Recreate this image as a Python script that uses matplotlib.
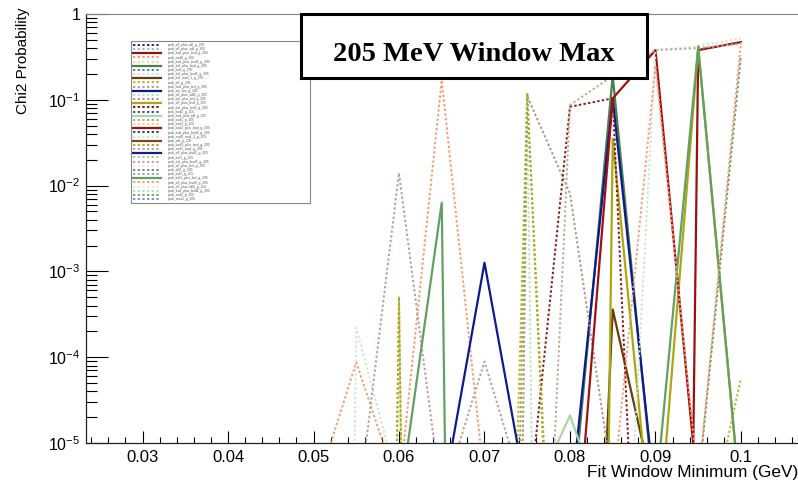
import matplotlib
matplotlib.use("Agg")
import matplotlib.pyplot as plt
from matplotlib.patches import Rectangle
from matplotlib.ticker import MultipleLocator, LogLocator, FuncFormatter, NullFormatter

plt.rcParams["font.family"] = ["Liberation Sans", "DejaVu Sans"]
plt.rcParams["mathtext.fontset"] = "custom"
plt.rcParams["mathtext.rm"] = "Liberation Sans"
plt.rcParams["mathtext.it"] = "Liberation Sans:italic"

# fit window lower edge (GeV)
fit_min = [0.025, 0.030, 0.035, 0.040, 0.045, 0.050, 0.055, 0.060,
           0.065, 0.070, 0.075, 0.080, 0.085, 0.090, 0.095, 0.100]

LO = 1e-12   # fit probability far below the plotted range
NIL = 1e-40  # failed fit, probability effectively zero

#                       .025 .030 .035 .040 .045 .050    .055     .060     .065    .070     .075    .080    .085     .090    .095    .100
tdf_plus_tdf        = [LO,  LO,  LO,  LO,  LO,  LO,     LO,      LO,      LO,     LO,      LO,     LO,     6e-6,    LO,     LO,     LO]
tdf_plus_sdf        = [LO,  LO,  LO,  LO,  LO,  LO,     LO,      LO,      LO,     LO,      LO,     LO,     LO,      3e-6,   LO,     LO]
bsd_plus_bsd        = [LO,  LO,  LO,  LO,  LO,  LO,     LO,      LO,      LO,     LO,      LO,     LO,     LO,      NIL,    0.38,   0.47]
ssd0                = [LO,  LO,  LO,  LO,  LO,  2.3e-6, 8.7e-5,  2.8e-6,  0.17,   3.4e-6,  LO,     LO,     LO,      LO,     LO,     LO]
bsd_plus_bsd2       = [LO,  LO,  LO,  LO,  LO,  LO,     LO,      LO,      LO,     LO,      LO,     2e-6,   LO,      LO,     LO,     LO]
bsf_plus_bsd        = [LO,  LO,  LO,  LO,  LO,  LO,     LO,      LO,      LO,     LO,      LO,     8.5e-7, 0.19,    1.6e-6, LO,     LO]
bsd                 = [LO,  LO,  LO,  LO,  LO,  LO,     LO,      LO,      LO,     LO,      LO,     LO,     LO,      LO,     5e-6,   LO]
bsf_plus_bsd2       = [LO,  LO,  LO,  LO,  LO,  NIL,    2.2e-4,  3.0e-6,  LO,     LO,      LO,     LO,     LO,      LO,     LO,     LO]
bsf_mod_1           = [LO,  LO,  LO,  LO,  LO,  LO,     LO,      LO,      LO,     LO,      LO,     3e-15,  3.6e-4,  2.2e-6, LO,     LO]
tdf                 = [LO,  LO,  LO,  LO,  LO,  LO,     NIL,     5.1e-4,  NIL,    2e-19,   0.12,   4e-12,  LO,      LO,     2.9e-7, 5.7e-5]
bsd_plus_bsf        = [LO,  LO,  LO,  LO,  LO,  LO,     1.15e-6, 0.014,   2.2e-6, 8.9e-5,  2.0e-6, LO,     LO,      LO,     LO,     LO]
sm_bsi              = [LO,  LO,  LO,  LO,  LO,  LO,     LO,      LO,      2e-6,   1.26e-3, 2.3e-6, 1.7e-6, 0.104,   2.2e-6, LO,     LO]
tdf_plus_sdf2       = [LO,  LO,  LO,  LO,  LO,  LO,     LO,      LO,      LO,     NIL,     0.10,   NIL,    LO,      LO,     LO,     LO]
bsf_plus_bsf        = [LO,  LO,  LO,  LO,  LO,  LO,     LO,      LO,      LO,     NIL,     0.11,   8.1e-3, 3.4e-6,  LO,     LO,     LO]
tdf_plus_bsd        = [LO,  LO,  LO,  LO,  LO,  LO,     LO,      LO,      LO,     LO,      LO,     NIL,    0.035,   3e-7,   0.40,   1.8e-6]
bsf_plus_bsf2       = [LO,  LO,  LO,  LO,  LO,  LO,     LO,      LO,      LO,     LO,      1.2e-6, 0.083,  0.104,   LO,     LO,     LO]
bsd2                = [LO,  LO,  LO,  LO,  LO,  LO,     LO,      LO,      LO,     LO,      7e-6,   LO,     LO,      LO,     LO,     LO]
bsd_plus_tdf        = [LO,  LO,  LO,  LO,  LO,  LO,     LO,      LO,      LO,     LO,      1.7e-6, 2.1e-5, 8e-7,    LO,     LO,     LO]
ssd1                = [LO,  LO,  LO,  LO,  LO,  LO,     LO,      LO,      LO,     2e-6,    LO,     LO,     LO,      LO,     LO,     LO]
bsd1                = [LO,  LO,  LO,  LO,  LO,  LO,     LO,      LO,      5e-6,   LO,      LO,     LO,     LO,      LO,     LO,     LO]
bsd2_plus_bsd       = [LO,  LO,  LO,  LO,  LO,  LO,     LO,      LO,      LO,     LO,      LO,     6.9e-8, 0.104,   0.38,   2.4e-6, LO]
bsd_plus_bsd3       = [LO,  LO,  LO,  LO,  LO,  LO,     LO,      LO,      LO,     LO,      LO,     LO,     LO,      LO,     LO,     4e-6]
ssd0_mod_1          = [LO,  LO,  LO,  LO,  LO,  LO,     LO,      LO,      LO,     LO,      LO,     LO,     1.7e-10, 0.38,   0.42,   0.52]
sdf                 = [LO,  LO,  LO,  LO,  LO,  LO,     LO,      LO,      LO,     LO,      LO,     LO,     LO,      6e-6,   LO,     LO]
bsd3_plus_bsd       = [LO,  LO,  LO,  LO,  LO,  LO,     NIL,     5.0e-4,  NIL,    1e-25,   0.12,   LO,     LO,      LO,     LO,     LO]
ssd1_mod            = [LO,  LO,  LO,  LO,  LO,  LO,     LO,      3e-6,    LO,     LO,      LO,     LO,     LO,      LO,     LO,     LO]
tdf_plus_bsd2       = [LO,  LO,  LO,  LO,  LO,  LO,     LO,      LO,      LO,     LO,      LO,     4e-6,   LO,      LO,     LO,     LO]
bsf1                = [LO,  LO,  LO,  LO,  LO,  LO,     LO,      LO,      LO,     LO,      LO,     LO,     2e-6,    LO,     LO,     LO]
bsf_plus_bsd3       = [LO,  LO,  LO,  LO,  LO,  LO,     LO,      LO,      LO,     LO,      LO,     0.087,  0.19,    0.38,   0.40,   0.45]
tdf_plus_bsf        = [LO,  LO,  LO,  LO,  LO,  LO,     LO,      LO,      LO,     LO,      LO,     LO,     LO,      LO,     1e-6,   LO]
tdf2                = [LO,  LO,  LO,  LO,  LO,  LO,     LO,      LO,      LO,     LO,      LO,     LO,     LO,      LO,     3.2e-6, 0.33]
bsf2                = [LO,  LO,  LO,  LO,  LO,  LO,     LO,      LO,      LO,     LO,      LO,     LO,     LO,      5e-6,   LO,     LO]
bsf1_plus_bsf       = [LO,  LO,  LO,  LO,  LO,  LO,     LO,      1.8e-6,  6.3e-3, NIL,     LO,     LO,     LO,      2.3e-6, 0.42,   1.8e-6]
tdf_plus_bsd3       = [LO,  LO,  LO,  LO,  LO,  LO,     LO,      LO,      LO,     LO,      LO,     LO,     2.5e-6,  0.25,   3.5e-6, 0.47]
tdf_plus_tdf2       = [LO,  LO,  LO,  LO,  LO,  LO,     LO,      LO,      LO,     LO,      3e-6,   LO,     LO,      LO,     LO,     LO]
bsd_plus_bsd4       = [LO,  LO,  LO,  LO,  LO,  LO,     LO,      LO,      LO,     6e-6,    LO,     LO,     LO,      LO,     LO,     LO]
ssd2                = [LO,  LO,  LO,  LO,  LO,  LO,     LO,      LO,      LO,     LO,      LO,     3e-6,   LO,      LO,     LO,     LO]
sma1                = [LO,  LO,  LO,  LO,  LO,  LO,     LO,      LO,      LO,     LO,      LO,     LO,     4e-6,    LO,     LO,     LO]

# (graph name, values, colour, line style) in the order they were added to the legend
series = [
    ("prob_tdf_plus_tdf_g_205", tdf_plus_tdf, "#1f2f8f", "dot"),
    ("prob_tdf_plus_sdf_g_205", tdf_plus_sdf, "#8cc4cc", "dot"),
    ("prob_bsd_plus_bsd_g_205", bsd_plus_bsd, "#9a1010", "solid"),
    ("prob_ssd0_g_205", ssd0, "#f59a70", "dot"),
    ("prob_bsd_plus_bsd2_g_205", bsd_plus_bsd2, "#e4e49c", "dot"),
    ("prob_bsf_plus_bsd_g_205", bsf_plus_bsd, "#4a7f4a", "solid"),
    ("prob_bsd_g_205", bsd, "#6070cc", "dot"),
    ("prob_bsf_plus_bsd2_g_205", bsf_plus_bsd2, "#cfe6cf", "dot"),
    ("prob_bsf_mod_1_g_205", bsf_mod_1, "#6b3a0a", "solid"),
    ("prob_tdf_g_205", tdf, "#b8b826", "dot"),
    ("prob_bsd_plus_bsf_g_205", bsd_plus_bsf, "#b8a096", "dot"),
    ("prob_sm_bsi_g_205", sm_bsi, "#0c1a90", "solid"),
    ("prob_tdf_plus_sdf2_g_205", tdf_plus_sdf2, "#bfe0bf", "dot"),
    ("prob_bsf_plus_bsf_g_205", bsf_plus_bsf, "#a89a88", "dot"),
    ("prob_tdf_plus_bsd_g_205", tdf_plus_bsd, "#a8a812", "solid"),
    ("prob_bsf_plus_bsf2_g_205", bsf_plus_bsf2, "#8f1212", "dot"),
    ("prob_bsd2_g_205", bsd2, "#3b4fa8", "dot"),
    ("prob_bsd_plus_tdf_g_205", bsd_plus_tdf, "#a8d8a8", "solid"),
    ("prob_ssd1_g_205", ssd1, "#c9a070", "dot"),
    ("prob_bsd1_g_205", bsd1, "#e0e090", "dot"),
    ("prob_bsd2_plus_bsd_g_205", bsd2_plus_bsd, "#a01010", "solid"),
    ("prob_bsd_plus_bsd3_g_205", bsd_plus_bsd3, "#2b3f9b", "dot"),
    ("prob_ssd0_mod_1_g_205", ssd0_mod_1, "#cfe4cf", "dot"),
    ("prob_sdf_g_205", sdf, "#7a4a1a", "solid"),
    ("prob_bsd3_plus_bsd_g_205", bsd3_plus_bsd, "#a8a830", "dot"),
    ("prob_ssd1_mod_g_205", ssd1_mod, "#c8a0a0", "dot"),
    ("prob_tdf_plus_bsd2_g_205", tdf_plus_bsd2, "#102090", "solid"),
    ("prob_bsf1_g_205", bsf1, "#a0d0a0", "dot"),
    ("prob_bsf_plus_bsd3_g_205", bsf_plus_bsd3, "#b8ae94", "dot"),
    ("prob_tdf_plus_bsf_g_205", tdf_plus_bsf, "#eeeeee", "dot"),
    ("prob_tdf2_g_205", tdf2, "#6a9a5a", "dot"),
    ("prob_bsf2_g_205", bsf2, "#9aaad0", "dot"),
    ("prob_bsf1_plus_bsf_g_205", bsf1_plus_bsf, "#62a062", "solid"),
    ("prob_tdf_plus_bsd3_g_205", tdf_plus_bsd3, "#f4a07a", "dot"),
    ("prob_tdf_plus_tdf2_g_205", tdf_plus_tdf2, "#e4f0e4", "dot"),
    ("prob_bsd_plus_bsd4_g_205", bsd_plus_bsd4, "#b8e0b8", "dot"),
    ("prob_ssd2_g_205", ssd2, "#78a868", "dot"),
    ("prob_sma1_g_205", sma1, "#8094c8", "dot"),
]

fig = plt.figure(figsize=(7.98, 4.82), dpi=100)
ax = fig.add_axes([86 / 798, 39 / 482, 712 / 798, 429 / 482])

for name, vals, color, style in series:
    if style == "dot":
        ax.plot(fit_min, vals, color=color, lw=1.4, linestyle=(0, (1.2, 1.2)), label=name)
    else:
        ax.plot(fit_min, vals, color=color, lw=1.6, linestyle="-", label=name)

ax.set_yscale("log")
ax.set_xlim(0.02339, 0.10667)
ax.set_ylim(1e-5, 1)

ax.xaxis.set_major_locator(MultipleLocator(0.01))
ax.xaxis.set_minor_locator(MultipleLocator(0.002))
ax.xaxis.set_major_formatter(FuncFormatter(lambda v, p: f"{round(v, 3):g}"))
ax.yaxis.set_major_locator(LogLocator(base=10, numticks=10))
ax.yaxis.set_minor_locator(LogLocator(base=10, subs=range(2, 10), numticks=100))
ax.yaxis.set_minor_formatter(NullFormatter())


def decade_label(v, pos):
    exp = int(round(__import__("math").log10(v)))
    return "1" if exp == 0 else r"$10^{%d}$" % exp


ax.yaxis.set_major_formatter(FuncFormatter(decade_label))

ax.tick_params(axis="x", which="major", direction="in", length=9, width=0.8, labelsize=12, pad=5)
ax.tick_params(axis="x", which="minor", direction="in", length=4.3, width=0.8)
ax.tick_params(axis="y", which="major", direction="in", length=16, width=0.8, labelsize=11.5, pad=4)
ax.tick_params(axis="y", which="minor", direction="in", length=8, width=0.8)

ax.spines["right"].set_visible(False)
ax.spines["top"].set_color("#808080")
for side in ("left", "bottom"):
    ax.spines[side].set_linewidth(0.9)
    ax.spines[side].set_color("#222222")

leg = ax.legend(loc="upper left", bbox_to_anchor=(0.0632, 0.562, 0.2514, 0.375),
                mode="expand", borderaxespad=0, fontsize=2.4, labelspacing=0.05,
                handlelength=8.5, handletextpad=2.0, borderpad=0.6, ncol=1,
                fancybox=False, framealpha=1)
leg.get_frame().set_edgecolor("#888888")
leg.get_frame().set_linewidth(0.8)
for t in leg.get_texts():
    t.set_color("#555555")

fig.text(1.0, 17 / 482, "Fit Window Minimum (GeV)", ha="right", va="top", fontsize=12.4)
fig.text(23 / 798, 1 - 7 / 482, "Chi2 Probability", rotation=90, ha="center", va="top", fontsize=11)

fig.add_artist(Rectangle((301 / 798, 1 - 78 / 482), 346 / 798, 64 / 482,
                         transform=fig.transFigure, facecolor="white",
                         edgecolor="black", linewidth=2.2, zorder=5))
fig.text(474 / 798, 1 - 61 / 482, "205 MeV Window Max", ha="center", va="baseline",
         fontsize=20.5, fontweight="bold", family="Liberation Serif", zorder=6)

fig.savefig("out.png", dpi=100)
